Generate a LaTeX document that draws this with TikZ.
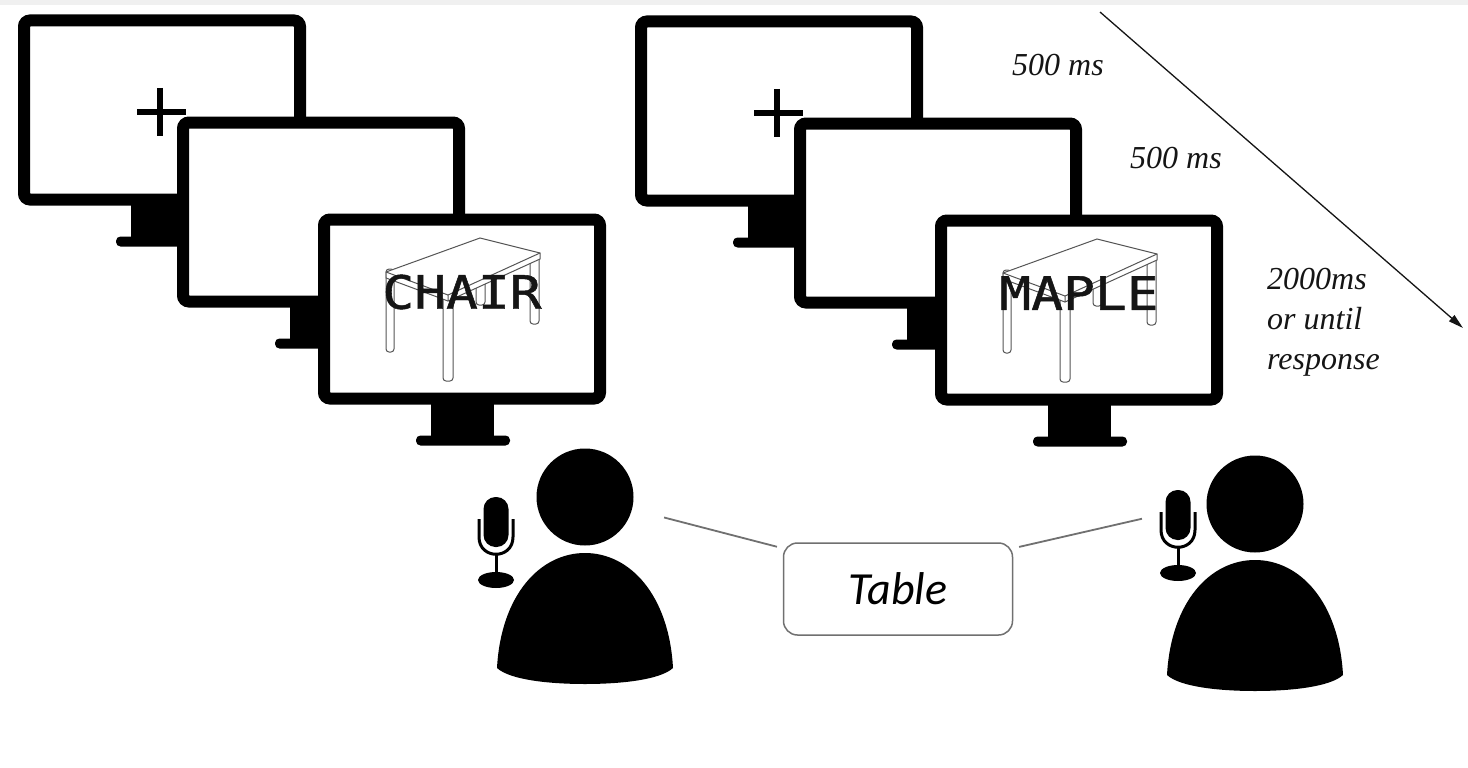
\documentclass[tikz,border=0pt]{standalone}
\usepackage{fontspec}
\usepackage{graphicx}
\setmainfont{Liberation Serif}
\newfontfamily\wordfont[FakeBold=1]{DejaVu Sans Mono}
\newfontfamily\answerfont{Carlito}
\usetikzlibrary{arrows.meta}
\definecolor{ttLine}{HTML}{707070}
\definecolor{ttInk}{HTML}{151515}
\definecolor{ttDesk}{HTML}{555555}
\definecolor{ttStrip}{HTML}{F0F0F0}

\tikzset{
  screen/.style={draw=black, line width=12pt, rounded corners=6pt, fill=white,
    minimum width=276pt, minimum height=179pt, inner sep=0pt},
  head/.style={circle, fill=black, minimum size=97pt, inner sep=0pt},
  desk/.style={draw=ttDesk, line width=1pt, fill=white},
  timing/.style={font=\itshape\fontsize{32}{40}\selectfont, text=ttInk, inner sep=0pt},
  stimulus/.style={font=\wordfont\fontsize{46}{46}\selectfont, text=ttInk, inner sep=0pt},
  answerbox/.style={draw=ttLine, line width=1.5pt, rounded corners=14pt,
    minimum width=229pt, minimum height=92pt,
    font=\answerfont\itshape\fontsize{46}{46}\selectfont},
  link/.style={draw=ttLine, line width=1.8pt},
}

% neck and foot under a screen node
\newcommand{\drawstand}[1]{%
  \fill ([xshift=-31pt,yshift=1pt]#1.south) rectangle ([xshift=32pt,yshift=-33pt]#1.south);
  \fill[rounded corners=4.5pt] ([xshift=-46pt,yshift=-31pt]#1.south)
    rectangle ([xshift=48pt,yshift=-41pt]#1.south);}

% fixation cross on a screen
\newcommand{\drawcross}[1]{%
  \draw[line width=6pt] ([xshift=-25pt,yshift=-2pt]#1.center) -- ([xshift=24pt,yshift=-2pt]#1.center);
  \draw[line width=6pt] ([xshift=-2pt,yshift=22pt]#1.center) -- ([xshift=-2pt,yshift=-26pt]#1.center);}

% line drawing of a table on a screen
\newcommand{\drawdesk}[1]{%
  \begin{scope}[shift={(#1.center)}]
    \draw[desk, rounded corners=3pt] (14,-40) rectangle (23,-4);
    \draw[desk, rounded corners=3pt] (-76,-40) rectangle (-68,43);
    \draw[desk, rounded corners=3pt] (-19,-20) rectangle (-9,72);
    \draw[desk, rounded corners=3pt] (68,-55) rectangle (77,15);
    \draw[desk] (18,-71) -- (78,-56) -- (78,-50) -- (-14,-8) -- (-76,-31) -- (-76,-37) -- cycle;
    \draw[desk, fill=none] (-76,-37) -- (-14,-14) -- (78,-56) (-14,-14) -- (-14,-8);
  \end{scope}}

% head and shoulders
\newcommand{\drawperson}[3]{%
  \node[head] (#1) at (#2,#3) {};
  \fill[shift={(#2,#3)}] (-88,171) .. controls (-84,98) and (-45,56) .. (0,56)
    .. controls (45,56) and (84,98) .. (88,171)
    .. controls (75,183) and (35,187) .. (0,187)
    .. controls (-35,187) and (-75,183) .. (-88,171) -- cycle;}

% microphone, given the top of its capsule
\newcommand{\drawmic}[2]{%
  \begin{scope}[shift={(#1,#2)}]
    \fill[rounded corners=12pt] (-12.5,0) rectangle (12.5,50);
    \draw[line width=3pt] (-17,22) -- (-17,40) .. controls (-17,63) and (17,63) .. (17,40) -- (17,22);
    \draw[line width=3pt] (0,57) -- (0,80);
    \fill (0,83) ellipse [x radius=18pt, y radius=8pt];
  \end{scope}}

\begin{document}
\begin{tikzpicture}[x=1pt, y=-1pt]
  \useasboundingbox (0,0) rectangle (1468,768);
  \fill[white] (0,0) rectangle (1468,768);
  \fill[ttStrip] (0,0) rectangle (1468,5);

  % first speaker's screens
  \node[screen] (ml1) at (162,110) {};
  \drawstand{ml1}
  \drawcross{ml1}
  \node[screen] (ml2) at (321,212) {};
  \drawstand{ml2}
  \node[screen] (ml3) at (462,309) {};
  \drawstand{ml3}
  \drawdesk{ml3}
  \node[stimulus] (chair) at ([yshift=17pt]ml3.center) {\scalebox{1.15}[1]{CHAIR}};

  % second speaker's screens
  \node[screen] (mr1) at (779,111) {};
  \drawstand{mr1}
  \drawcross{mr1}
  \node[screen] (mr2) at (938,213) {};
  \drawstand{mr2}
  \node[screen] (mr3) at (1079,310) {};
  \drawstand{mr3}
  \drawdesk{mr3}
  \node[stimulus] (maple) at ([yshift=17pt]mr3.center) {\scalebox{1.15}[1]{MAPLE}};

  % timing
  \coordinate (tstart) at (1100,12);
  \coordinate (tend) at (1463,328);
  \draw[ttInk, line width=1.3pt, -{Triangle[length=15pt,width=8pt]}] (tstart) -- (tend);
  \node[timing] (fixtime) at (1058,65) {500 ms};
  \node[timing] (blanktime) at (1176,158) {500 ms};
  \node[timing, align=left, anchor=west] (wordtime) at (1267,322) {2000ms\\or until\\response};

  % speakers and the named picture
  \drawperson{headL}{585}{497}
  \drawmic{496}{497}
  \drawperson{headR}{1255}{504}
  \drawmic{1178}{490}
  \node[answerbox] (answer) at (898,589) {Table};
  \draw[link, shorten <=33pt, shorten >=6pt] (headL) -- ([yshift=-6pt]answer.north west);
  \draw[link, shorten <=66pt, shorten >=6pt] (headR.west) -- ([yshift=-6pt]answer.north east);
\end{tikzpicture}
\end{document}
